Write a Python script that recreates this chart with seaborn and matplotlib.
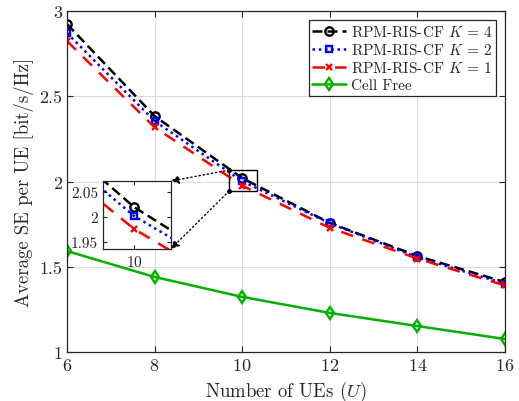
import matplotlib
matplotlib.use("Agg")
import matplotlib.pyplot as plt
import seaborn as sns
import pandas as pd
from matplotlib.patches import Rectangle

U = [6, 8, 10, 12, 14, 16]
se_k4 = [2.924, 2.384, 2.020, 1.757, 1.563, 1.410]
se_k2 = [2.871, 2.355, 2.002, 1.755, 1.555, 1.400]
se_k1 = [2.824, 2.318, 1.976, 1.728, 1.548, 1.390]
se_cf = [1.592, 1.440, 1.323, 1.229, 1.152, 1.076]

labels = [r"RPM-RIS-CF $K$ = 4", r"RPM-RIS-CF $K$ = 2", r"RPM-RIS-CF $K$ = 1", "Cell Free"]
series = [se_k4, se_k2, se_k1, se_cf]
colors = ["#000000", "#0000ff", "#ff0000", "#00b000"]
dashes = [(4, 2), (1, 1.5), (5, 4), ""]
markers = ["o", "s", "x", "d"]
msizes = [6, 5, 4.5, 6]

sns.set_style("ticks")
plt.rcParams["font.family"] = ["cmr10", "DejaVu Serif"]
plt.rcParams["mathtext.fontset"] = "cm"
plt.rcParams["axes.formatter.use_mathtext"] = True
plt.rcParams["axes.unicode_minus"] = False

fig = plt.figure(figsize=(5.19, 4.02), dpi=100)
ax = fig.add_axes([0.129, 0.122, 0.844, 0.848])

def draw(axis, with_label=True):
    for s, lab, c, d, m, ms in zip(series, labels, colors, dashes, markers, msizes):
        df = pd.DataFrame({"U": U, "SE": s})
        sns.lineplot(data=df, x="U", y="SE", ax=axis, color=c, linewidth=1.8,
                     marker=m, markersize=ms, markerfacecolor="none",
                     markeredgecolor=c, markeredgewidth=1.7,
                     label=lab if with_label else None, legend=False)
        ln = axis.lines[-1]
        if d:
            ln.set_dashes(d)

draw(ax)
ax.set_xlim(6, 16)
ax.set_ylim(1, 3)
ax.set_xticks([6, 8, 10, 12, 14, 16])
ax.set_yticks([1, 1.5, 2, 2.5, 3])
ax.set_yticklabels(["1", "1.5", "2", "2.5", "3"])
ax.grid(True, color="#dcdcdc", linewidth=0.8)
ax.tick_params(direction="in", top=True, right=True, labelsize=13, colors="#262626", length=4)
for sp in ax.spines.values():
    sp.set_color("#262626")
    sp.set_linewidth(0.9)
ax.set_xlabel(r"Number of UEs ($U$)", fontsize=13.5, color="#262626")
ax.set_ylabel(r"Average SE per UE [bit/s/Hz]", fontsize=13.5, color="#262626")
leg = ax.legend(loc="upper right", fontsize=11, frameon=True, fancybox=False,
                edgecolor="#262626", framealpha=1, borderpad=0.25, labelspacing=0.2,
                handlelength=2.2, handletextpad=0.3, borderaxespad=0.6)
leg.get_frame().set_linewidth(0.9)

# zoom rectangle
x0, x1, y0, y1 = 9.7, 10.34, 1.944, 2.067
ax.add_patch(Rectangle((x0, y0), x1 - x0, y1 - y0, fill=False, edgecolor="k", linewidth=1, zorder=5))

axins = fig.add_axes([0.198, 0.378, 0.131, 0.169])
draw(axins, with_label=False)
axins.set_xlim(9.7, 10.35)
axins.set_ylim(1.936, 2.072)
axins.set_xticks([10])
axins.set_yticks([1.95, 2.0, 2.05])
axins.set_yticklabels(["1.95", "2", "2.05"])
axins.set_xlabel("")
axins.set_ylabel("")
axins.tick_params(direction="in", top=True, right=True, labelsize=11, colors="#262626", length=3)
for sp in axins.spines.values():
    sp.set_color("#262626")
    sp.set_linewidth(0.9)

for (sx, sy), (tx, ty) in [((x0, y1), (1, 1)), ((x0, y0), (1, 0))]:
    ax.annotate("", xy=(tx, ty), xycoords=axins.transAxes, xytext=(sx, sy), textcoords="data",
                arrowprops=dict(arrowstyle="-|>", linestyle=(0, (1, 2)), color="k", lw=1,
                                shrinkA=0, shrinkB=0, mutation_scale=12), zorder=6)
    ax.plot([sx], [sy], "k.", markersize=5, zorder=6)

fig.savefig("out.png", dpi=100)
